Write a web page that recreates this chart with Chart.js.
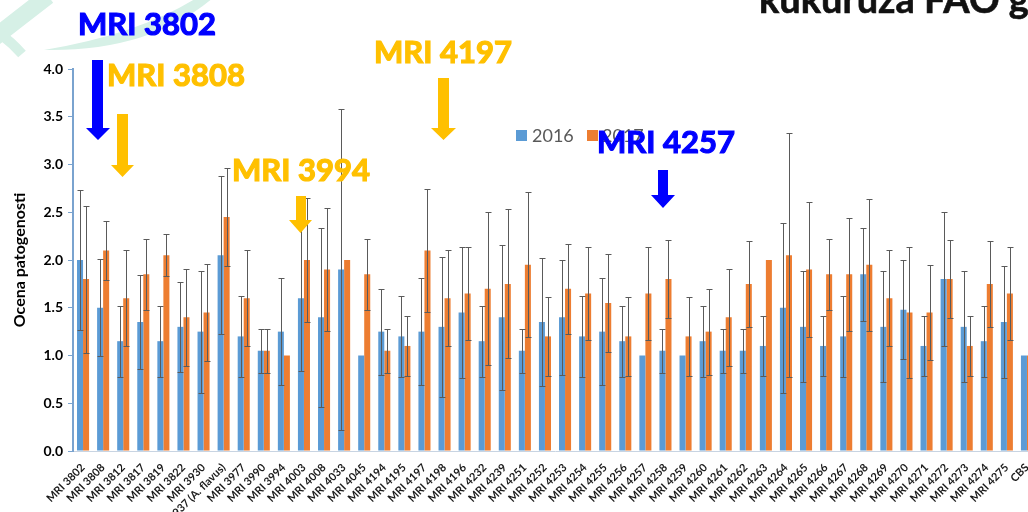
<!DOCTYPE html>
<html>
<head>
<meta charset="utf-8">
<script src="https://cdn.jsdelivr.net/npm/chart.js@4.4.0/dist/chart.umd.min.js"></script>
<style>
    body { margin: 0; background: #fff; overflow: hidden; }
    #wrap { position: relative; width: 1028px; height: 512px; overflow: hidden; }
    #deco, #notes { position: absolute; left: 0; top: 0; }
    #chartBox { position: absolute; left: 0; top: 0; width: 1040px; height: 512px; }
    .t { font-family: Lato, "DejaVu Sans", sans-serif; font-weight: bold; }
    .n { stroke-width: 1.2; }
</style>
</head>
<body>
<div id="wrap">
    <svg id="deco" width="1028" height="512">
        <path d="M 48 -4 Q 22 16 -6 38" stroke="#d6f0e6" stroke-width="17" fill="none"/>
        <path d="M -6 30 Q 10 40 22 54" stroke="#d6f0e6" stroke-width="10" fill="none"/>
        <path d="M 44 50 Q 150 52 214 -3 L 198 -3 Q 140 34 44 50 Z" fill="#d6f0e6"/>
    </svg>
    <div id="chartBox"><canvas id="grafico" width="1040" height="512"></canvas></div>
    <svg id="notes" width="1028" height="512">
        <text class="t" x="759" y="13" font-size="38" fill="#111" stroke="#111" stroke-width="0.6">kukuruza FAO grupa</text>
        <rect x="516" y="130" width="11" height="11" fill="#5b9bd5"/>
        <text class="t" x="532" y="142" font-size="18" fill="#595959" style="font-weight:normal">2016</text>
        <rect x="587" y="130" width="11" height="11" fill="#ed7d31"/>
        <text class="t" x="602" y="142" font-size="18" fill="#595959" style="font-weight:normal">2017</text>
        <g id="arrows"></g>
        <text class="t n" x="78" y="35" font-size="31" fill="#0000ff" stroke="#0000ff">MRI 3802</text>
        <text class="t n" x="107" y="86" font-size="31" fill="#ffc000" stroke="#ffc000">MRI 3808</text>
        <text class="t n" x="232" y="181" font-size="31" fill="#ffc000" stroke="#ffc000">MRI 3994</text>
        <text class="t n" x="374" y="63" font-size="31" fill="#ffc000" stroke="#ffc000">MRI 4197</text>
        <text class="t n" x="597" y="153" font-size="31" fill="#0000ff" stroke="#0000ff">MRI 4257</text>
    </svg>
</div>
<script>
const categorias = ['MRI 3802', 'MRI 3808', 'MRI 3812', 'MRI 3817', 'MRI 3819', 'MRI 3822', 'MRI 3930',
    'MRI 3937 (A. flavus)', 'MRI 3977', 'MRI 3990', 'MRI 3994', 'MRI 4003', 'MRI 4008', 'MRI 4033',
    'MRI 4045', 'MRI 4194', 'MRI 4195', 'MRI 4197', 'MRI 4198', 'MRI 4196', 'MRI 4232', 'MRI 4239',
    'MRI 4251', 'MRI 4252', 'MRI 4253', 'MRI 4254', 'MRI 4255', 'MRI 4256', 'MRI 4257', 'MRI 4258',
    'MRI 4259', 'MRI 4260', 'MRI 4261', 'MRI 4262', 'MRI 4263', 'MRI 4264', 'MRI 4265', 'MRI 4266',
    'MRI 4267', 'MRI 4268', 'MRI 4269', 'MRI 4270', 'MRI 4271', 'MRI 4272', 'MRI 4273', 'MRI 4274',
    'MRI 4275', 'CBS'];

const valores2016 = [2.0, 1.5, 1.15, 1.35, 1.15, 1.3, 1.25, 2.05, 1.2, 1.05, 1.25, 1.6, 1.4, 1.9,
    1.0, 1.25, 1.2, 1.25, 1.3, 1.45, 1.15, 1.4, 1.05, 1.35, 1.4, 1.2, 1.25, 1.15, 1.0, 1.05,
    1.0, 1.15, 1.05, 1.05, 1.1, 1.5, 1.3, 1.1, 1.2, 1.85, 1.3, 1.48, 1.1, 1.8, 1.3, 1.15, 1.35, 1.0];
const valores2017 = [1.8, 2.1, 1.6, 1.85, 2.05, 1.4, 1.45, 2.45, 1.6, 1.05, 1.0, 2.0, 1.9, 2.0,
    1.85, 1.05, 1.1, 2.1, 1.6, 1.65, 1.7, 1.75, 1.95, 1.2, 1.7, 1.65, 1.55, 1.2, 1.65, 1.8,
    1.2, 1.25, 1.4, 1.75, 2.0, 2.05, 1.9, 1.85, 1.85, 1.95, 1.6, 1.45, 1.45, 1.8, 1.1, 1.75, 1.65, 1.0];

// desvio padrao (barras de erro)
const erro2016 = [0.73, 0.51, 0.37, 0.49, 0.37, 0.47, 0.64, 0.83, 0.42, 0.23, 0.56, 0.76, 0.94, 1.68,
    0, 0.45, 0.42, 0.56, 0.73, 0.69, 0.37, 0.76, 0.23, 0.67, 0.6, 0.42, 0.56, 0.37, 0, 0.23,
    0, 0.37, 0.23, 0.23, 0.31, 0.89, 0.58, 0.31, 0.42, 0.49, 0.58, 0.52, 0.31, 0.7, 0.58, 0.37, 0.59, 0];
const erro2017 = [0.77, 0.31, 0.5, 0.37, 0.22, 0.51, 0.51, 0.51, 0.5, 0.23, 0, 0.65, 0.64, 0,
    0.37, 0.23, 0.31, 0.64, 0.5, 0.49, 0.8, 0.78, 0.76, 0.41, 0.47, 0.49, 0.51, 0.41, 0.49, 0.41,
    0.41, 0.45, 0.51, 0.45, 0, 1.28, 0.71, 0.37, 0.59, 0.69, 0.5, 0.69, 0.5, 0.41, 0.31, 0.45, 0.49, 0];

const ticksY = [0, 0.5, 1.0, 1.5, 2.0, 2.5, 3.0, 3.5, 4.0];

// setas das anotacoes
const setas = [
    { x0: 92, x1: 103, topo: 60, cabeca: 128, h0: 86, h1: 110, ponta: 140, cor: '#0000ff' },
    { x0: 117, x1: 128, topo: 114, cabeca: 165, h0: 111, h1: 134, ponta: 177, cor: '#ffc000' },
    { x0: 296, x1: 306, topo: 196, cabeca: 220, h0: 289, h1: 312, ponta: 233, cor: '#ffc000' },
    { x0: 438, x1: 449, topo: 78, cabeca: 128, h0: 431, h1: 456, ponta: 140, cor: '#ffc000' },
    { x0: 658, x1: 668, topo: 170, cabeca: 195, h0: 651, h1: 675, ponta: 208, cor: '#0000ff' }
];
const g = document.getElementById('arrows');
setas.forEach(s => {
    const p = document.createElementNS('http://www.w3.org/2000/svg', 'polygon');
    const meio = (s.h0 + s.h1) / 2;
    p.setAttribute('points', `${s.x0},${s.topo} ${s.x1},${s.topo} ${s.x1},${s.cabeca} ${s.h1},${s.cabeca} ${meio},${s.ponta} ${s.h0},${s.cabeca} ${s.x0},${s.cabeca}`);
    p.setAttribute('fill', s.cor);
    g.appendChild(p);
});

const barrasErro = {
    id: 'barrasErro',
    afterDatasetsDraw(chart) {
        const ctx = chart.ctx;
        const y = chart.scales.y;
        const erros = [erro2016, erro2017];
        ctx.save();
        ctx.strokeStyle = '#5a5a5a';
        ctx.lineWidth = 1;
        chart.data.datasets.forEach((ds, d) => {
            const meta = chart.getDatasetMeta(d);
            meta.data.forEach((bar, i) => {
                const e = erros[d][i];
                if (!e) return;
                const x = Math.round(bar.x) + 0.5;
                const yt = Math.round(y.getPixelForValue(ds.data[i] + e)) + 0.5;
                const yb = Math.round(y.getPixelForValue(ds.data[i] - e)) + 0.5;
                ctx.beginPath();
                ctx.moveTo(x, yt); ctx.lineTo(x, yb);
                ctx.moveTo(x - 3, yt); ctx.lineTo(x + 3, yt);
                ctx.moveTo(x - 3, yb); ctx.lineTo(x + 3, yb);
                ctx.stroke();
            });
        });
        ctx.restore();
    }
};

const chartCanvas = document.getElementById('grafico');
const chart = new Chart(chartCanvas, {
    type: 'bar',
    data: {
        labels: categorias,
        datasets: [
            { label: '2016', data: valores2016, backgroundColor: '#5b9bd5', categoryPercentage: 0.6, barPercentage: 1.0 },
            { label: '2017', data: valores2017, backgroundColor: '#ed7d31', categoryPercentage: 0.6, barPercentage: 1.0 }
        ]
    },
    options: {
        responsive: false,
        animation: false,
        layout: { padding: { left: 6, top: 69, right: 3, bottom: 0 } },
        plugins: {
            legend: { display: false },
            tooltip: { enabled: false }
        },
        scales: {
            x: {
                grid: { display: false },
                border: { color: '#c8d4e2', width: 1 },
                ticks: {
                    autoSkip: false,
                    maxRotation: 45,
                    minRotation: 45,
                    padding: 2,
                    color: '#1a1a1a',
                    font: { family: 'Lato', size: 11, weight: 'bold' }
                },
                afterFit: s => { s.height = 61; }
            },
            y: {
                min: 0,
                max: 4,
                afterBuildTicks: s => { s.ticks = ticksY.map(v => ({ value: v })); },
                grid: { drawOnChartArea: false, drawTicks: true, tickLength: 5, tickColor: '#7aa3cf' },
                border: { color: '#7aa3cf', width: 2 },
                ticks: {
                    padding: 5,
                    color: '#000',
                    font: { family: 'Lato', size: 14, weight: 'bold' },
                    callback: v => v.toFixed(1)
                },
                title: {
                    display: true,
                    text: 'Ocena patogenosti',
                    color: '#000',
                    padding: { top: 4, bottom: 4 },
                    font: { family: 'Lato', size: 16, weight: 'bold' }
                },
                afterFit: s => { s.width = 67; }
            }
        }
    },
    plugins: [barrasErro]
});
</script>
</body>
</html>
